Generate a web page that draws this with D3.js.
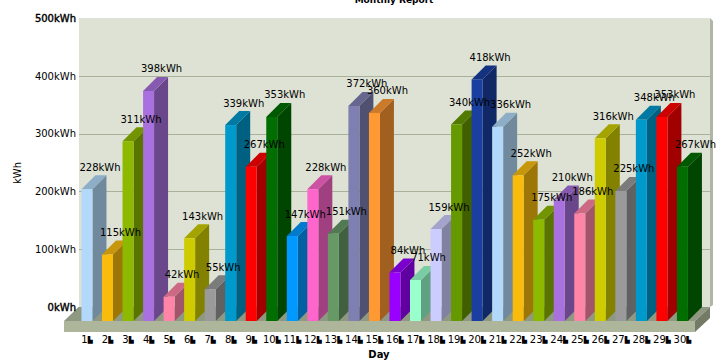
<!DOCTYPE html>
<html><head><meta charset="utf-8">
<script src="https://cdn.jsdelivr.net/npm/d3@7"></script>
<style>html,body{margin:0;padding:0;background:#fff}svg{display:block}text{font-family:"DejaVu Sans",sans-serif;font-size:10px;fill:#000}</style>
</head><body><svg id="c" width="724" height="363"></svg>
<script>
const days = ["1▙","2▙","3▙","4▙","5▙","6▙","7▙","8▙","9▙","10▙","11▙","12▙","13▙","14▙","15▙","16▙","17▙","18▙","19▙","20▙","21▙","22▙","23▙","24▙","25▙","26▙","27▙","28▙","29▙","30▙"];
const kwh = [228,115,311,398,42,143,55,339,267,353,147,228,151,372,360,84,71,159,340,418,336,252,175,210,186,316,225,348,353,267];
const yTicks = [0,100,200,300,400,500];
const palette = ["#B2D9F9","#F9BB0C","#8DB900","#A971DD","#FF85A8","#CECC00","#9A9A9A","#0099CC","#FF0000","#006E00","#0099FF","#FF66CC","#669966","#7F7FB2","#FF9933","#9900FF","#99FFCC","#CCCCFF","#669900","#1A3FA0"];

const svg = d3.select("#c");
const depth = 14, barW = 11;
const y = d3.scaleLinear().domain([0,500]).range([307,18]);
const x = d3.scaleBand().domain(days).range([76.7,692.7]);
const shade = (c,k)=>{const r=d3.rgb(c);return d3.rgb(r.r*k,r.g*k,r.b*k).formatHex();};
const poly = pts => d3.line()(pts)+"Z";

// wall, side strip, floor
svg.append("path").attr("d",poly([[710,18],[713,21],[713,305],[710,307]])).attr("fill","#b0b5a5");
svg.append("rect").attr("x",79).attr("y",18).attr("width",631).attr("height",289).attr("fill","#dde2d4");
svg.append("g").selectAll("line").data(yTicks.filter(d=>d>0&&d<500)).join("line")
  .attr("x1",79).attr("x2",710).attr("y1",d=>Math.round(y(d))+.5).attr("y2",d=>Math.round(y(d))+.5)
  .attr("stroke","#a8b298");
const fb = y(0)+depth;
svg.append("path").attr("d",poly([[64,fb],[64+depth+.5,y(0)],[710,y(0)],[695,fb]])).attr("fill","#8f9880");
svg.append("rect").attr("x",64).attr("y",fb).attr("width",631).attr("height",11).attr("fill","#adb69a");
svg.append("path").attr("d",poly([[695,fb],[710,y(0)],[710,y(0)+11],[695,fb+11]])).attr("fill","#737b66");

// axes
const ay = svg.append("g").attr("transform","translate(79,0)")
  .call(d3.axisLeft(y).tickValues(yTicks).tickSize(0).tickPadding(3).tickFormat(d=>d+"kWh"));
ay.select(".domain").remove();
ay.selectAll("text").style("font-family",'"DejaVu Sans"').style("font-size","10px").attr("fill","#000")
  .style("stroke",d=>(d===0||d===500)?"#000":"none").style("stroke-width",.4);
const ax = svg.append("g").attr("transform","translate(0,332)")
  .call(d3.axisBottom(x).tickSize(0).tickPadding(4));
ax.select(".domain").remove();
ax.selectAll("text").style("font-family",'"DejaVu Sans"').style("font-size","10px").attr("fill","#000")
  .each(function(d){
    const t=d3.select(this); t.text(null);
    t.append("tspan").text(d.slice(0,-1));
    t.append("tspan").attr("dy",-1).style("font-size","6.5px").text(d.slice(-1));
  });

// bars
const bars = svg.append("g").selectAll("g").data(days).join("g");
const L = d => x(d)+(x.bandwidth()-barW)/2;
const val = (d,i) => kwh[i];
const T = (d,i) => y(val(d,i))+depth;
bars.append("path").attr("fill",(d,i)=>shade(palette[i%20],.63))
  .attr("d",(d,i)=>poly([[L(d)+barW,T(d,i)],[L(d)+barW+depth,T(d,i)-depth],[L(d)+barW+depth,fb-depth],[L(d)+barW,fb]]));
bars.append("path").attr("fill",(d,i)=>shade(palette[i%20],.8))
  .attr("d",(d,i)=>poly([[L(d),T(d,i)],[L(d)+depth,T(d,i)-depth],[L(d)+barW+depth,T(d,i)-depth],[L(d)+barW,T(d,i)]]));
bars.append("rect").attr("fill",(d,i)=>palette[i%20])
  .attr("x",L).attr("y",T).attr("width",barW).attr("height",(d,i)=>fb-T(d,i));

// value labels
svg.append("g").selectAll("text").data(days).join("text")
  .attr("text-anchor","middle")
  .attr("x",d=>L(d)+barW/2+13)
  .attr("y",(d,i)=>y(val(d,i))-4.5)
  .text((d,i)=>kwh[i]+"kWh");

// titles
svg.append("text").attr("x",394).attr("y",3).attr("text-anchor","middle").style("font-weight","bold").style("font-size","9px").text("Monthly Report");
svg.append("text").attr("x",379).attr("y",358).attr("text-anchor","middle").style("font-weight","bold").text("Day");
svg.append("text").attr("transform","translate(21,173) rotate(-90)").attr("text-anchor","middle").text("kWh");
</script></body></html>
